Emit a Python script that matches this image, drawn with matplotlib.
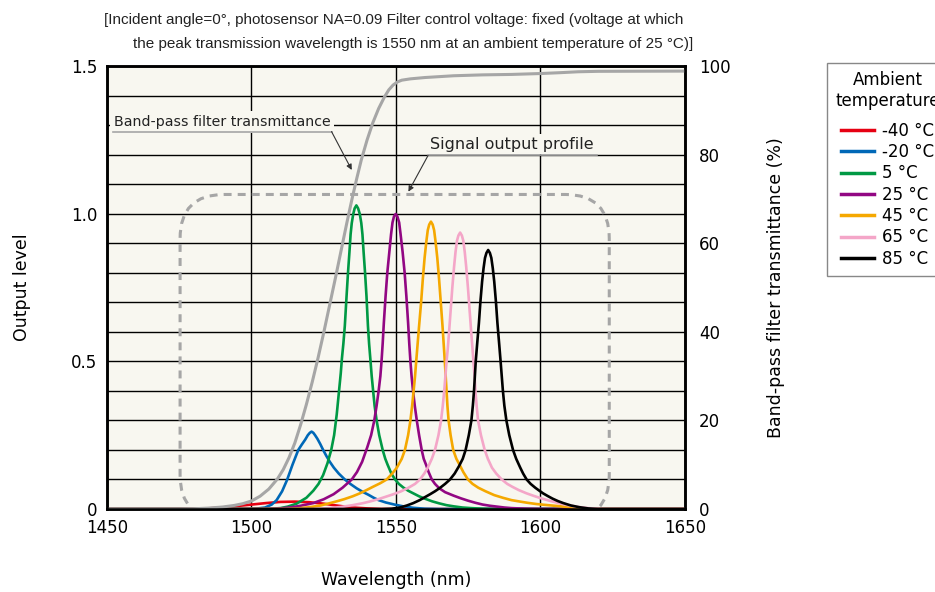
import matplotlib
matplotlib.use("Agg")
import matplotlib.pyplot as plt
from matplotlib import font_manager
from matplotlib.patches import FancyBboxPatch

# wavelength (nm) / output level for each ambient temperature
wl_m40 = [1450, 1480, 1485, 1489, 1492, 1496, 1500, 1505, 1510, 1515, 1520, 1525, 1530, 1535,
          1540, 1545, 1650]
lv_m40 = [0, 0, 0.002, 0.004, 0.007, 0.011, 0.015, 0.02, 0.024, 0.025, 0.023, 0.018, 0.011, 0.005,
          0.002, 0, 0]

wl_m20 = [1450, 1497, 1501.5, 1504.7, 1507, 1508.7, 1510.6, 1512.3, 1514.2, 1516.2,
          1517.4, 1518.6, 1519.5, 1520.2, 1520.8, 1521.4, 1522.0, 1522.8, 1523.8, 1524.8,
          1525.9, 1527.1, 1528.5, 1530.2, 1532.3, 1534.2, 1536.4, 1538.5, 1540.5, 1542.3,
          1544, 1546.5, 1549.5, 1552.5, 1556, 1560, 1565, 1650]
lv_m20 = [0, 0, 0.001, 0.005, 0.015, 0.03, 0.06, 0.098, 0.15, 0.2,
          0.218, 0.235, 0.25, 0.258, 0.262, 0.258, 0.25, 0.238, 0.22, 0.2,
          0.18, 0.16, 0.14, 0.12, 0.1, 0.085, 0.07, 0.058, 0.048, 0.038,
          0.03, 0.022, 0.015, 0.009, 0.004, 0.001, 0, 0]

wl_5 = [1450, 1505, 1510, 1512.5, 1515.6, 1519, 1521.4, 1523.2, 1524.8, 1526.3,
        1527.6, 1528.6, 1529.5, 1530.0, 1530.5, 1530.9, 1531.3, 1531.8, 1532.3, 1532.9,
        1533.4, 1533.9, 1534.3, 1534.7, 1535.2, 1535.7, 1536.3, 1536.9, 1537.5, 1538.0,
        1538.4, 1538.8, 1539.3, 1539.8, 1540.3, 1540.7, 1541.2, 1541.6, 1542.1, 1542.6,
        1543.3, 1544.2, 1545.4, 1546.3, 1547.1, 1548.4, 1549.7, 1551, 1552.5, 1554.2,
        1556, 1558, 1560, 1562.5, 1565, 1567.5, 1570, 1573, 1576, 1580,
        1586, 1650]
lv_5 = [0, 0, 0.003, 0.008, 0.018, 0.038, 0.062, 0.085, 0.115, 0.155,
        0.2, 0.25, 0.32, 0.37, 0.42, 0.46, 0.51, 0.56, 0.62, 0.72,
        0.8, 0.87, 0.93, 0.968, 0.998, 1.018, 1.028, 1.018, 0.998, 0.968,
        0.93, 0.87, 0.8, 0.72, 0.62, 0.56, 0.5, 0.45, 0.4, 0.35,
        0.3, 0.25, 0.2, 0.17, 0.15, 0.12, 0.1, 0.085, 0.073, 0.062,
        0.053, 0.043, 0.035, 0.026, 0.019, 0.013, 0.009, 0.005, 0.003, 0.001,
        0, 0]

wl_25 = [1450, 1505, 1510, 1514, 1517, 1521.4, 1525, 1528.4, 1531.5, 1534.7,
         1536.5, 1538.3, 1540.1, 1541.4, 1542.5, 1543.3, 1544.0, 1544.6, 1545.0, 1545.4,
         1545.8, 1546.4, 1547.0, 1547.7, 1548.3, 1548.8, 1549.3, 1549.9, 1550.5, 1551.1,
         1551.6, 1552.3, 1553.0, 1553.6, 1554.2, 1554.6, 1555.0, 1555.4, 1555.9, 1556.5,
         1557.2, 1558.0, 1558.9, 1559.6, 1560.4, 1561.3, 1562.4, 1563.5, 1565, 1567,
         1570, 1572.5, 1575, 1577.5, 1580, 1582.5, 1585, 1587.5, 1590, 1595,
         1600, 1650]
lv_25 = [0, 0, 0.002, 0.006, 0.011, 0.02, 0.033, 0.05, 0.072, 0.1,
         0.125, 0.16, 0.21, 0.25, 0.3, 0.35, 0.4, 0.45, 0.5, 0.56,
         0.63, 0.72, 0.8, 0.87, 0.93, 0.97, 0.99, 0.999, 0.99, 0.97,
         0.93, 0.87, 0.8, 0.72, 0.63, 0.56, 0.5, 0.45, 0.4, 0.35,
         0.3, 0.25, 0.2, 0.17, 0.15, 0.125, 0.1, 0.085, 0.07, 0.057,
         0.045, 0.036, 0.028, 0.021, 0.015, 0.011, 0.008, 0.005, 0.003, 0.001,
         0, 0]

wl_45 = [1450, 1512, 1516, 1520, 1524, 1527.2, 1529.5, 1532, 1535, 1537.5,
         1539.8, 1542, 1544.5, 1546.8, 1548.7, 1550.3, 1552.0, 1553.1, 1554.2, 1555.0,
         1555.6, 1556.1, 1556.6, 1557.0, 1557.5, 1558.0, 1558.7, 1559.3, 1559.9, 1560.5,
         1561.0, 1561.5, 1562.1, 1562.7, 1563.2, 1563.7, 1564.3, 1564.9, 1565.5, 1566.1,
         1566.5, 1566.9, 1567.2, 1567.5, 1567.8, 1568.2, 1568.9, 1569.8, 1570.9, 1572,
         1573.3, 1574.9, 1576.5, 1578.5, 1581, 1584, 1587, 1590, 1593, 1595.5,
         1598.5, 1601.5, 1606, 1610, 1614, 1620, 1650]
lv_45 = [0, 0, 0.002, 0.006, 0.012, 0.02, 0.026, 0.033, 0.043, 0.053,
         0.064, 0.075, 0.087, 0.1, 0.12, 0.14, 0.17, 0.2, 0.25, 0.3,
         0.35, 0.4, 0.45, 0.5, 0.56, 0.62, 0.7, 0.78, 0.85, 0.905,
         0.944, 0.963, 0.973, 0.963, 0.944, 0.905, 0.85, 0.78, 0.7, 0.62,
         0.56, 0.5, 0.45, 0.4, 0.35, 0.3, 0.25, 0.2, 0.17, 0.15,
         0.125, 0.1, 0.085, 0.072, 0.06, 0.047, 0.038, 0.03, 0.025, 0.021,
         0.017, 0.014, 0.01, 0.006, 0.003, 0, 0]

wl_65 = [1450, 1522, 1527, 1531, 1535, 1538.7, 1541.2, 1543.8, 1546.3, 1549.1,
         1551.8, 1554.3, 1556.6, 1558.3, 1559.8, 1561, 1562.4, 1563.5, 1564.7, 1565.6,
         1566.2, 1566.7, 1567.1, 1567.5, 1567.9, 1568.3, 1568.9, 1569.5, 1570.1, 1570.6,
         1571.1, 1571.6, 1572.2, 1572.8, 1573.3, 1573.8, 1574.3, 1574.9, 1575.5, 1576.1,
         1576.5, 1576.8, 1577.2, 1577.5, 1577.9, 1578.4, 1579.4, 1580.7, 1581.8, 1583.2,
         1584.7, 1586.6, 1588.5, 1590.3, 1592.5, 1595.2, 1597.8, 1600.3, 1603.5, 1606.7,
         1610, 1613, 1616.5, 1621, 1650]
lv_65 = [0, 0, 0.003, 0.007, 0.013, 0.02, 0.026, 0.033, 0.041, 0.05,
         0.06, 0.072, 0.085, 0.1, 0.12, 0.14, 0.17, 0.2, 0.25, 0.3,
         0.35, 0.4, 0.45, 0.5, 0.54, 0.59, 0.67, 0.75, 0.82, 0.87,
         0.908, 0.926, 0.936, 0.926, 0.908, 0.87, 0.82, 0.75, 0.67, 0.59,
         0.54, 0.5, 0.45, 0.4, 0.35, 0.3, 0.25, 0.2, 0.17, 0.14,
         0.12, 0.1, 0.085, 0.075, 0.064, 0.053, 0.044, 0.036, 0.027, 0.019,
         0.012, 0.007, 0.003, 0, 0]

wl_85 = [1450, 1545, 1548.5, 1551.4, 1553.8, 1556, 1558.2, 1560, 1561.8, 1563.5,
         1565.3, 1567, 1568.7, 1570.3, 1571.8, 1573.1, 1574.1, 1575.2, 1576.1, 1576.6,
         1577.0, 1577.3, 1577.6, 1578.1, 1578.7, 1579.2, 1579.8, 1580.3, 1580.8, 1581.3,
         1581.9, 1582.5, 1583.0, 1583.5, 1584.0, 1584.6, 1585.1, 1585.7, 1586.2, 1586.6,
         1587.0, 1587.5, 1588.2, 1589.2, 1590.5, 1591.6, 1593, 1594, 1595.2, 1596.6,
         1598.2, 1599.6, 1600.9, 1602.5, 1604.2, 1606, 1607.9, 1610.5, 1613.5, 1616.5,
         1620, 1650]
lv_85 = [0, 0, 0.001, 0.005, 0.012, 0.02, 0.03, 0.04, 0.05, 0.06,
         0.072, 0.085, 0.1, 0.12, 0.145, 0.17, 0.2, 0.25, 0.3, 0.35,
         0.4, 0.45, 0.5, 0.56, 0.63, 0.7, 0.77, 0.815, 0.85, 0.867,
         0.877, 0.867, 0.85, 0.815, 0.77, 0.7, 0.63, 0.56, 0.5, 0.45,
         0.4, 0.35, 0.3, 0.25, 0.2, 0.17, 0.14, 0.12, 0.1, 0.085,
         0.072, 0.062, 0.053, 0.044, 0.035, 0.027, 0.02, 0.012, 0.006, 0.002,
         0, 0]

# band-pass filter transmittance (%)
wl_bpf = [1450, 1475, 1480, 1485, 1490, 1494, 1497, 1500, 1503, 1506,
          1509, 1511, 1513, 1515, 1517, 1519, 1521, 1523, 1525, 1527,
          1529, 1531, 1533, 1535, 1536.5, 1538, 1540, 1542, 1544, 1546,
          1547.5, 1549, 1550.5, 1552, 1555, 1560, 1565, 1570, 1580, 1590,
          1600, 1607, 1613, 1620, 1650]
t_bpf = [0, 0, 0.05, 0.2, 0.45, 0.8, 1.2, 1.8, 2.9, 4.5,
         6.8, 8.9, 11.6, 14.9, 19.0, 23.6, 28.6, 34.0, 39.8, 45.9,
         52.0, 58.3, 64.6, 70.6, 74.8, 78.8, 83.3, 87.2, 90.4, 93.0,
         94.6, 95.7, 96.4, 96.8, 97.1, 97.4, 97.6, 97.8, 98.0, 98.1,
         98.3, 98.5, 98.7, 98.8, 98.85]

temps = ["-40 °C", "-20 °C", "5 °C", "25 °C", "45 °C", "65 °C", "85 °C"]
colors = ["#e60012", "#0068b7", "#009944", "#920783", "#f5a800", "#f4a6c8", "#000000"]
series = [(wl_m40, lv_m40), (wl_m20, lv_m20), (wl_5, lv_5), (wl_25, lv_25),
          (wl_45, lv_45), (wl_65, lv_65), (wl_85, lv_85)]

xticks = [1450, 1500, 1550, 1600, 1650]
yticks = [0, 0.5, 1.0, 1.5]
ylabels = ["0", "0.5", "1.0", "1.5"]
rticks = [0, 20, 40, 60, 80, 100]

bg = "#f8f7f0"
gray = "#a6a6a6"

plt.rcParams["font.family"] = ["DejaVu Sans"]

fig = plt.figure(figsize=(9.35, 5.92), dpi=100)
ax = fig.add_axes([0.1144, 0.1402, 0.6182, 0.7483])
ax.set_facecolor(bg)
ax.set_xlim(1450, 1650)
ax.set_ylim(0, 1.5)

ax.set_xticks(xticks)
ax.set_xticklabels([str(v) for v in xticks], fontsize=12)
ax.set_yticks(yticks)
ax.set_yticklabels(ylabels, fontsize=12)
ax.set_yticks([i / 10 for i in range(16)], minor=True)
ax.tick_params(axis="both", which="both", length=0)
ax.tick_params(axis="x", pad=7)
ax.tick_params(axis="y", pad=7)
ax.grid(True, which="both", color="black", lw=1.0)

for (x, y), c, t in zip(series, colors, temps):
    ax.plot(x, y, color=c, lw=1.9, label=t, zorder=4, solid_joinstyle="round")

# signal output profile (dashed rounded box)
box_x0, box_x1 = 1475.3, 1623.8
box_y0, box_y1 = -0.034, 1.065
aspect = (1.5 / (0.7483 * 592)) / (200 / (0.6182 * 935))
prof = FancyBboxPatch((box_x0, box_y0), box_x1 - box_x0, box_y1 - box_y0,
                      boxstyle="round,pad=0,rounding_size=15.2", mutation_aspect=aspect,
                      fill=False, edgecolor=gray, lw=2.2, linestyle=(0, (2.6, 2.0)), zorder=3)
ax.add_patch(prof)

# annotations
ax.text(1452.3, 1.311, "Band-pass filter transmittance", fontsize=10.2, va="center", ha="left",
        color="#222222", zorder=5, bbox=dict(facecolor=bg, edgecolor="none", pad=3))
ax.plot([1452.1, 1527.7], [1.278, 1.278], color=gray, lw=1.2, zorder=5)
ax.annotate("", xy=(1534.7, 1.148), xytext=(1527.7, 1.278),
            arrowprops=dict(arrowstyle="-|>", color="#333333", lw=0.8, shrinkA=0, shrinkB=0,
                            mutation_scale=8), zorder=5)

ax.text(1561.8, 1.235, "Signal output profile", fontsize=11.5, va="center", ha="left",
        color="#222222", zorder=5, bbox=dict(facecolor=bg, edgecolor="none", pad=2))
ax.plot([1561.1, 1619.6], [1.197, 1.197], color=gray, lw=1.2, zorder=5)
ax.annotate("", xy=(1554.3, 1.0745), xytext=(1561.1, 1.197),
            arrowprops=dict(arrowstyle="-|>", color="#333333", lw=0.8, shrinkA=0, shrinkB=0,
                            mutation_scale=8), zorder=5)

ax2 = ax.twinx()
ax2.set_ylim(0, 100)
ax2.set_yticks(rticks)
ax2.set_yticklabels([str(v) for v in rticks], fontsize=12)
ax2.tick_params(axis="y", length=0, pad=10)
ax2.plot(wl_bpf, t_bpf, color=gray, lw=2.2, solid_joinstyle="round")

for a in (ax, ax2):
    for s in a.spines.values():
        s.set_linewidth(1.8)
        s.set_color("black")

ax.set_xlabel("Wavelength (nm)", fontsize=12.5, labelpad=25)
ax.set_ylabel("Output level", fontsize=12.5, labelpad=29)
ax2.set_ylabel("Band-pass filter transmittance (%)", fontsize=12.5, labelpad=26)

handles, labels = ax.get_legend_handles_labels()
leg = fig.legend(handles, labels, title="Ambient\ntemperature", loc="upper left",
                 bbox_to_anchor=(827 / 935, 1 - 63 / 592), fontsize=12, title_fontsize=12,
                 frameon=True, fancybox=False, edgecolor="#888888", framealpha=1,
                 handlelength=2.0, handletextpad=0.5, labelspacing=0.2, borderpad=0.5,
                 borderaxespad=0)
leg.get_frame().set_linewidth(1.0)
leg.get_title().set_multialignment("center")
leg._legend_box.sep = 0.7 * 12
for line in leg.get_lines():
    line.set_linewidth(2.5)

try:
    font_manager.findfont("Liberation Sans Narrow", fallback_to_default=False)
    title_font, title_size = ["Liberation Sans Narrow", "DejaVu Sans"], 12.5
except ValueError:
    title_font, title_size = ["Liberation Sans", "DejaVu Sans"], 11
fig.text(104 / 935, 1 - 20 / 592,
         "[Incident angle=0°, photosensor NA=0.09 Filter control voltage: fixed (voltage at which",
         fontsize=title_size, family=title_font, va="center", ha="left", color="#222222")
fig.text(133 / 935, 1 - 44 / 592,
         "the peak transmission wavelength is 1550 nm at an ambient temperature of 25 °C)]",
         fontsize=title_size, family=title_font, va="center", ha="left", color="#222222")

fig.savefig("out.png", dpi=100)
